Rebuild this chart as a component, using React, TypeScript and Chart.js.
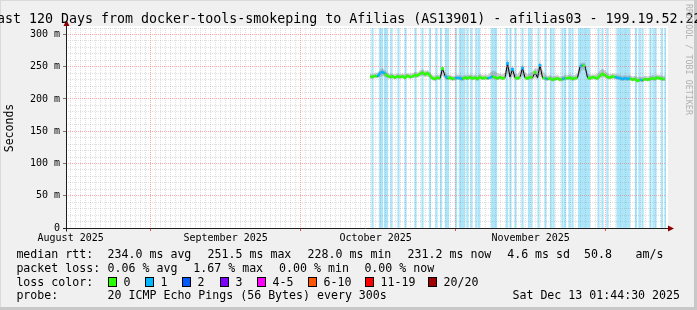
import React, { useEffect, useRef } from 'react';
import { Chart, registerables } from 'chart.js';

Chart.register(...registerables);

const FONT = "'DejaVu Sans Mono', monospace";

// ---------------- text ----------------
const TITLE = 'Last 120 Days from docker-tools-smokeping to Afilias (AS13901) - afilias03 - 199.19.52.22';
const WATERMARK = 'RRDTOOL / TOBI OETIKER';
const Y_AXIS_TITLE = 'Seconds';

// ---------------- axes ----------------
const X_MIN_DAY = 0;
const X_MAX_DAY = 120; // window: Aug 15 01:44:30 .. Dec 13 01:44:30
const Y_MAX = 310;
const FIRST_MIDNIGHT_DAY = 0.9274; // Aug 16 00:00
const monthStartDays = [16.9274, 46.9274, 77.9274, 107.9274];
const monthLabelDays = [0.9274, 31.9274, 61.9274, 92.9274];
const monthLabels = ['August 2025', 'September 2025', 'October 2025', 'November 2025'];
const Y_TICK_STEP = 10;
const Y_LABEL_STEP = 50;

// ---------------- data ----------------
const sampleStartDay = 60.8;
const sampleStepDay = 0.5;

const medianRtt = [
  235, 234, 236, 235, 240, 242, 239, 236, 234, 235,
  233, 235, 234, 235, 233, 236, 234, 235, 237, 236,
  239, 241, 238, 240, 236, 232, 231, 233, 232, 247,
  236, 232, 233, 231, 232, 233, 232, 231, 233, 232,
  234, 232, 233, 231, 234, 232, 233, 232, 233, 235,
  233, 232, 234, 232, 233, 255, 234, 246, 233, 232,
  234, 248, 233, 232, 234, 233, 241, 233, 252, 233,
  232, 231, 232, 230, 231, 232, 230, 231, 232, 232,
  233, 231, 232, 233, 250, 252, 251, 233, 232, 234,
  233, 232, 236, 239, 237, 234, 233, 235, 234, 233,
  232, 231, 232, 231, 232, 230, 231, 228, 230, 229,
  231, 230, 231, 232, 231, 233, 232, 231, 231,
];

const smokeHigh = [
  239, 238, 240, 241, 245, 248, 244, 241, 239, 239,
  238, 240, 238, 240, 238, 240, 239, 240, 242, 241,
  244, 246, 243, 245, 241, 237, 236, 237, 238, 251,
  242, 237, 237, 236, 236, 238, 237, 236, 237, 237,
  238, 237, 238, 236, 239, 237, 238, 237, 240, 244,
  243, 240, 239, 238, 241, 261, 245, 252, 240, 238,
  244, 254, 242, 238, 240, 242, 248, 247, 259, 245,
  238, 236, 237, 235, 236, 237, 235, 236, 237, 237,
  238, 236, 237, 240, 255, 256, 256, 240, 237, 238,
  238, 239, 244, 247, 244, 240, 238, 240, 239, 238,
  237, 236, 237, 236, 237, 235, 236, 234, 235, 234,
  236, 235, 236, 237, 236, 238, 237, 236, 236,
];

const smokeLow = [
  232, 231, 233, 232, 234, 236, 234, 232, 231, 232,
  230, 232, 231, 232, 230, 233, 231, 232, 233, 233,
  235, 236, 234, 235, 232, 229, 228, 230, 229, 236,
  231, 229, 230, 228, 229, 230, 229, 228, 230, 229,
  230, 229, 230, 228, 231, 229, 230, 229, 230, 231,
  230, 229, 230, 229, 230, 240, 230, 235, 230, 229,
  230, 236, 230, 229, 230, 230, 233, 230, 238, 230,
  229, 228, 229, 227, 228, 229, 227, 228, 229, 229,
  230, 228, 229, 230, 240, 246, 244, 230, 229, 230,
  230, 229, 232, 234, 233, 231, 230, 231, 230, 230,
  229, 228, 229, 228, 229, 227, 228, 226, 227, 226,
  228, 227, 228, 229, 228, 230, 229, 228, 228,
];

// index into lossColors (0 = no loss, 1 = 1/20 lost)
const lossLevel = [
  0, 0, 0, 0, 1, 1, 1, 0, 0, 0,
  0, 0, 0, 0, 0, 0, 0, 0, 0, 0,
  0, 0, 0, 0, 0, 0, 0, 0, 0, 0,
  1, 1, 0, 0, 0, 1, 1, 1, 0, 0,
  0, 0, 0, 0, 0, 0, 0, 0, 1, 1,
  0, 0, 0, 0, 0, 1, 0, 1, 0, 0,
  0, 1, 0, 0, 0, 0, 0, 0, 1, 0,
  0, 1, 0, 0, 0, 0, 0, 0, 1, 0,
  0, 0, 0, 0, 1, 1, 0, 1, 0, 0,
  0, 0, 0, 0, 0, 0, 0, 0, 0, 1,
  1, 1, 1, 1, 1, 0, 0, 0, 0, 1,
  0, 0, 0, 0, 0, 0, 0, 0, 0,
];

// days (since window start) where packet loss was recorded
const lossBarDays = [
  61.3, 62.8, 63.2, 63.8, 64.2, 65.1, 66.5, 67.9, 69.9, 71.3,
  72.8, 74.1, 75.0, 76.0, 76.4, 78.0, 78.8, 79.2, 79.6, 80.3,
  81.1, 82.1, 82.6, 85.2, 85.6, 86.0, 88.2, 88.9, 89.9, 91.3,
  92.6, 93.1, 94.5, 95.9, 97.0, 97.5, 99.3, 99.8, 100.7, 101.3,
  102.6, 103.0, 103.4, 103.8, 104.2, 104.6, 106.5, 107.3, 108.3, 110.3,
  110.6, 111.0, 111.4, 111.8, 112.2, 112.6, 114.0, 114.7, 115.3, 116.9,
  117.5, 117.9, 119.2, 119.9,
];

// ---------------- legend ----------------
const rttLabel = 'median rtt:';
const rttStats = ['234.0 ms avg', '251.5 ms max', '228.0 ms min', '231.2 ms now', '4.6 ms sd'];
const rttAms = ['50.8', 'am/s'];
const lossLabel = 'packet loss:';
const lossStats = ['0.06 % avg', '1.67 % max', '0.00 % min', '0.00 % now'];
const lossColorLabel = 'loss color:';
const lossLabels = ['0', '1', '2', '3', '4-5', '6-10', '11-19', '20/20'];
const lossColors = ['#26ff00', '#00b8ff', '#0059ff', '#7e00ff', '#ff00ff', '#ff5500', '#ff0000', '#a10000'];
const probeLabel = 'probe:';
const probeText = '20 ICMP Echo Pings (56 Bytes) every 300s';
const stampText = 'Sat Dec 13 01:44:30 2025';

// ---------------- layout / style ----------------
const W = 697;
const H = 310;
const LEG_X0 = 16.4;
const LEG_COL = 107.6;
const rttStatX = [107.6, 207.6, 307.6, 407.6, 507.2];
const rttAmsX = [584, 635.6];
const lossStatX = [107.6, 193.3, 279.1, 364.4];
const swatchX = [108, 145, 182, 220, 257, 308, 365, 428];
const rowBase = [258.5, 272.5, 286.5, 300.3];
const LEG_FS = 11.6;
const BASE_RATIO = 0.846; // DejaVu Sans Mono baseline offset with line-height 1

const GRID = 'rgba(150,150,150,0.3)';
const MGRID = 'rgba(255,100,100,0.55)';
const LOSS_BAR = '#ace6fa';
const SMOKE = 'rgba(120,120,120,0.38)';
const STEEP = 6;

const near = (a: number, b: number) => Math.abs(a - b) < 0.01;
const isMonthStart = (v: number) => monthStartDays.some((m) => near(m, v));

const frame = {
  id: 'rrdframe',
  beforeDraw(chart: any) {
    const { ctx, chartArea: a } = chart;
    ctx.save();
    ctx.fillStyle = '#f0f0f0';
    ctx.fillRect(0, 0, W, H);
    ctx.fillStyle = '#dadada';
    ctx.fillRect(0, 0, W, 1);
    ctx.fillRect(0, 0, 1, H);
    ctx.fillStyle = '#c8c8c8';
    ctx.fillRect(W - 3, 0, 3, H);
    ctx.fillRect(0, H - 3, W, 3);
    ctx.fillStyle = '#ffffff';
    ctx.fillRect(a.left, a.top - 2, a.right - a.left + 2, a.bottom - a.top + 2);
    ctx.restore();
  },
  afterDraw(chart: any) {
    const { ctx, chartArea: a } = chart;
    const y0 = Math.round(chart.scales.y.getPixelForValue(0)) + 0.5;
    const x0 = Math.round(a.left) + 0.5;
    ctx.save();
    ctx.strokeStyle = '#1e1e1e';
    ctx.lineWidth = 1;
    ctx.beginPath();
    ctx.moveTo(a.left - 3, y0);
    ctx.lineTo(a.right + 2, y0);
    ctx.moveTo(x0, y0 + 3);
    ctx.lineTo(x0, a.top - 2);
    ctx.stroke();
    ctx.fillStyle = '#8c0000';
    ctx.beginPath();
    ctx.moveTo(a.right + 2, y0 - 3);
    ctx.lineTo(a.right + 2, y0 + 3);
    ctx.lineTo(a.right + 8, y0);
    ctx.closePath();
    ctx.fill();
    ctx.beginPath();
    ctx.moveTo(x0 - 3, a.top - 2);
    ctx.lineTo(x0 + 3, a.top - 2);
    ctx.lineTo(x0, a.top - 8);
    ctx.closePath();
    ctx.fill();
    ctx.restore();
  },
};

function Txt(props: { x?: number; right?: number; b: number; fs: number; text: string; color?: string }) {
  const { x, right, b, fs, text, color } = props;
  const style: any = {
    position: 'absolute',
    top: b - BASE_RATIO * fs,
    fontFamily: FONT,
    fontSize: fs,
    lineHeight: `${fs}px`,
    whiteSpace: 'pre',
    color: color || '#000',
  };
  if (right !== undefined) style.right = right;
  else style.left = x;
  return <span style={style}>{text}</span>;
}

export default function App() {
  const ref = useRef<HTMLCanvasElement>(null);

  useEffect(() => {
    const canvas = ref.current;
    if (!canvas) return;

    const xs = medianRtt.map((_, i) => sampleStartDay + i * sampleStepDay);
    const pts = (arr: number[]) => arr.map((v, i) => ({ x: xs[i], y: v }));

    const dayTicks: number[] = [];
    for (let d = FIRST_MIDNIGHT_DAY; d < X_MAX_DAY; d += 1) dayTicks.push(d);
    const yTicks: number[] = [];
    for (let v = 0; v <= Y_MAX; v += Y_TICK_STEP) yTicks.push(v);

    const isPeak = (i: number) => {
      const v = medianRtt[i];
      const p = i > 0 ? medianRtt[i - 1] : v;
      const n = i < medianRtt.length - 1 ? medianRtt[i + 1] : v;
      return v - p > STEEP && v - n > STEEP;
    };

    const chart = new Chart(canvas, {
      type: 'line',
      data: {
        datasets: [
          {
            type: 'bar',
            data: lossBarDays.map((d) => ({ x: d, y: Y_MAX })) as any,
            backgroundColor: LOSS_BAR,
            borderWidth: 0,
            barThickness: 1.6,
            grouped: false,
            order: 10,
          } as any,
          {
            data: pts(smokeHigh),
            borderWidth: 0,
            pointRadius: 0,
            fill: '+1',
            backgroundColor: SMOKE,
            tension: 0,
            order: 5,
          },
          {
            data: pts(smokeLow),
            borderWidth: 0,
            pointRadius: 0,
            fill: false,
            tension: 0,
            order: 5,
          },
          {
            data: pts(medianRtt),
            borderColor: '#000000',
            borderWidth: 1,
            pointRadius: 0,
            fill: false,
            tension: 0,
            order: 2,
          },
          {
            data: pts(medianRtt),
            borderColor: lossColors[0],
            borderWidth: 2.5,
            fill: false,
            tension: 0,
            order: 1,
            pointStyle: 'rect',
            pointRadius: (c: any) => (isPeak(c.dataIndex) ? 2 : 0),
            pointBorderWidth: 0,
            pointBackgroundColor: (c: any) => lossColors[lossLevel[c.dataIndex]],
            segment: {
              borderColor: (c: any) => {
                const a = medianRtt[c.p0DataIndex];
                const b = medianRtt[c.p1DataIndex];
                if (Math.abs(b - a) > STEEP) return 'rgba(0,0,0,0)';
                return lossColors[lossLevel[c.p1DataIndex]];
              },
            },
          } as any,
        ],
      },
      options: {
        responsive: false,
        animation: false,
        devicePixelRatio: 1,
        events: [],
        layout: { padding: { left: 0, right: 31, top: 28, bottom: 0 } },
        plugins: {
          legend: { display: false },
          tooltip: { enabled: false },
          title: { display: false },
        },
        scales: {
          x: {
            type: 'linear',
            min: X_MIN_DAY,
            max: X_MAX_DAY,
            offset: false,
            afterBuildTicks: (s: any) => {
              s.ticks = dayTicks.map((v) => ({ value: v }));
            },
            afterFit: (s: any) => {
              s.height = 82;
            },
            grid: {
              z: 1,
              offset: false,
              lineWidth: 1,
              color: (c: any) => (c.tick && isMonthStart(c.tick.value) ? MGRID : GRID),
              drawTicks: true,
              tickLength: 3,
              tickColor: (c: any) => (c.tick && isMonthStart(c.tick.value) ? 'rgba(230,60,60,0.9)' : 'rgba(0,0,0,0)'),
            },
            border: { display: false, dash: [1, 1] },
            ticks: {
              autoSkip: false,
              maxRotation: 0,
              minRotation: 0,
              padding: 1,
              color: '#000',
              font: { family: FONT, size: 10 },
              callback: (v: any) => {
                const i = monthLabelDays.findIndex((d) => near(d, Number(v)));
                return i >= 0 ? monthLabels[i] : '';
              },
            },
          },
          y: {
            type: 'linear',
            min: 0,
            max: Y_MAX,
            afterBuildTicks: (s: any) => {
              s.ticks = yTicks.map((v) => ({ value: v }));
            },
            afterFit: (s: any) => {
              s.width = 66;
            },
            grid: {
              z: 1,
              lineWidth: 1,
              color: (c: any) => {
                const v = c.tick ? c.tick.value : 0;
                if (v === 0) return 'rgba(0,0,0,0)';
                return v % Y_LABEL_STEP === 0 ? MGRID : GRID;
              },
              drawTicks: true,
              tickLength: 3,
              tickColor: (c: any) => {
                const v = c.tick ? c.tick.value : 1;
                return v % Y_LABEL_STEP === 0 ? 'rgba(90,90,90,0.8)' : 'rgba(0,0,0,0)';
              },
            },
            border: { display: false, dash: [1, 1] },
            ticks: {
              autoSkip: false,
              padding: 3,
              color: '#000',
              font: { family: FONT, size: 10 },
              callback: (v: any) => {
                const n = Number(v);
                if (n === 0) return '0';
                return n % Y_LABEL_STEP === 0 ? `${n} m` : '';
              },
            },
            title: {
              display: true,
              text: Y_AXIS_TITLE,
              color: '#000',
              font: { family: FONT, size: 11.5 },
              padding: { top: 3, bottom: 3 },
            },
          },
        },
      } as any,
      plugins: [frame],
    });

    return () => chart.destroy();
  }, []);

  return (
    <div style={{ position: 'absolute', left: 0, top: 0, width: W, height: H, overflow: 'hidden' }}>
      <canvas ref={ref} width={W} height={H} style={{ position: 'absolute', left: 0, top: 0, display: 'block' }} />
      <Txt x={-11} b={23.5} fs={13.3} text={TITLE} />
      <span
        style={{
          position: 'absolute',
          left: 693,
          top: 3.5,
          fontFamily: FONT,
          fontSize: 8.4,
          lineHeight: '8.4px',
          whiteSpace: 'pre',
          color: '#b0b0b0',
          transform: 'rotate(90deg)',
          transformOrigin: '0 0',
        }}
      >
        {WATERMARK}
      </span>

      <Txt x={LEG_X0} b={rowBase[0]} fs={LEG_FS} text={rttLabel} />
      {rttStats.map((s, i) => (
        <Txt key={'r' + i} x={rttStatX[i]} b={rowBase[0]} fs={LEG_FS} text={s} />
      ))}
      {rttAms.map((s, i) => (
        <Txt key={'a' + i} x={rttAmsX[i]} b={rowBase[0]} fs={LEG_FS} text={s} />
      ))}

      <Txt x={LEG_X0} b={rowBase[1]} fs={LEG_FS} text={lossLabel} />
      {lossStats.map((s, i) => (
        <Txt key={'l' + i} x={lossStatX[i]} b={rowBase[1]} fs={LEG_FS} text={s} />
      ))}

      <Txt x={LEG_X0} b={rowBase[2]} fs={LEG_FS} text={lossColorLabel} />
      {lossLabels.map((s, i) => (
        <React.Fragment key={'c' + i}>
          <div
            style={{
              position: 'absolute',
              left: swatchX[i],
              top: rowBase[2] - 9.5,
              width: 9,
              height: 10,
              boxSizing: 'border-box',
              border: '1px solid #000',
              background: lossColors[i],
            }}
          />
          <Txt x={swatchX[i] + 15.6} b={rowBase[2]} fs={LEG_FS} text={s} />
        </React.Fragment>
      ))}

      <Txt x={LEG_X0} b={rowBase[3]} fs={LEG_FS} text={probeLabel} />
      <Txt x={LEG_COL} b={rowBase[3]} fs={LEG_FS} text={probeText} />
      <Txt right={17} b={rowBase[3]} fs={LEG_FS} text={stampText} />
    </div>
  );
}
